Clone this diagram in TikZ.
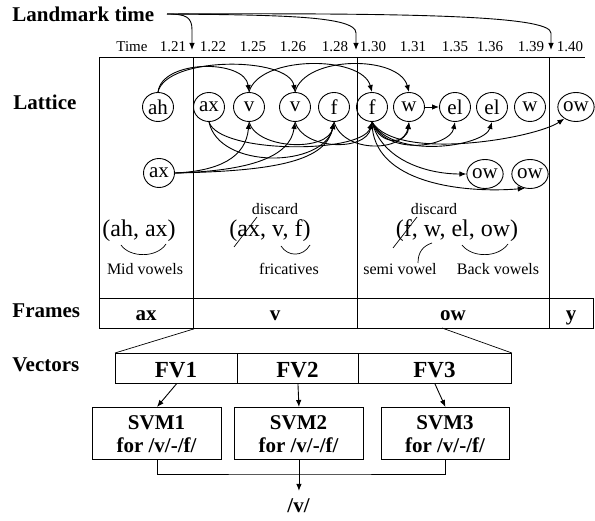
\documentclass[tikz,border=0pt]{standalone}
\usepackage{fontspec}
\setmainfont{Liberation Serif}
\usetikzlibrary{arrows.meta,shapes.geometric}
\begin{document}
\begin{tikzpicture}[x=1pt,y=-1pt,line width=0.9pt,
  tip/.style={-{Latex[length=7pt,width=5.5pt]}},
  lbl/.style={font=\fontsize{21}{25}\selectfont\bfseries,anchor=base west,inner sep=0pt},
  tm/.style={font=\fontsize{15}{18}\selectfont,anchor=base,inner sep=0pt},
  ph/.style={draw,ellipse,minimum width=31pt,minimum height=29pt,inner sep=0pt,font=\fontsize{21}{24}\selectfont},
  grp/.style={font=\fontsize{24}{28}\selectfont,anchor=base,inner sep=0pt},
  sm/.style={font=\fontsize{16}{19}\selectfont,anchor=base,inner sep=0pt},
  bt/.style={font=\fontsize{21}{25}\selectfont\bfseries,anchor=base,inner sep=0pt},
  fvt/.style={font=\fontsize{23}{27}\selectfont\bfseries,anchor=base,inner sep=0pt},
  cell/.style={draw,minimum width=#1,minimum height=30pt,inner sep=0pt,anchor=north west},
  svm/.style={draw,minimum width=#1,minimum height=52pt,inner sep=0pt,anchor=north west}
]
\useasboundingbox (0,0) rectangle (595,521);

% left labels
\node[lbl] (lm) at (12,22) {Landmark time};
\node[lbl] (lat) at (13,110) {Lattice};
\node[lbl] (frm) at (12,318) {Frames};
\node[lbl] (vec) at (12,372) {Vectors};

% time row
\node[tm] (tT) at (132,52) {Time};
\node[tm] (t1) at (173,52) {1.21};
\node[tm] (t2) at (213,52) {1.22};
\node[tm] (t3) at (253,52) {1.25};
\node[tm] (t4) at (293,52) {1.26};
\node[tm] (t5) at (335,52) {1.28};
\node[tm] (t6) at (373,52) {1.30};
\node[tm] (t7) at (413,52) {1.31};
\node[tm] (t8) at (455,52) {1.35};
\node[tm] (t9) at (490,52) {1.36};
\node[tm] (t10) at (531,52) {1.39};
\node[tm] (t11) at (570,52) {1.40};

% landmark arrows
\coordinate (ls) at (167,14);
\coordinate (la) at (192,50);
\coordinate (lb) at (356,50);
\coordinate (lc) at (551,50);
\draw[tip] (ls) .. controls (186,14) and (192,17) .. (192,30) -- (la);
\draw[tip] (ls) .. controls (280,15) and (356,16) .. (356,33) -- (lb);
\draw[tip] (ls) .. controls (400,13) and (551,15) .. (551,33) -- (lc);

% lattice frame
\draw (99,298) -- (99,57) -- (585,57);
\draw (193,57) -- (193,298);
\draw (357,57) -- (357,298);
\draw (549,57) -- (549,298);

% lattice nodes
\node[ph] (ah) at (158,107) {ah};
\node[ph] (axt) at (209,107) {ax};
\node[ph] (v1) at (249,107) {v};
\node[ph] (v2) at (295,107) {v};
\node[ph] (f1) at (334,107) {f};
\node[ph] (f2) at (372,107) {f};
\node[ph] (w1) at (409,107) {w};
\node[ph] (el1) at (455,107) {el};
\node[ph] (el2) at (492,107) {el};
\node[ph] (w2) at (530,107) {w};
\node[ph] (ow) at (576,107) {ow};
\node[ph] (axb) at (159,173) {ax};
\node[ph] (owa) at (485,174) {ow};
\node[ph] (owb) at (530,174) {ow};

% top arcs
\draw[tip] (ah.north) .. controls +(4,-33) and +(-4,-33) .. (v1.north);
\draw[tip] (ah.north) .. controls +(8,-36) and +(-6,-36) .. (v2.north);
\draw[tip] (v1.north) .. controls +(10,-37) and +(-10,-37) .. (f2.north);
\draw[tip] (v2.north) .. controls +(10,-37) and +(-10,-37) .. (w1.north);

% bottom arcs
\draw[tip] (axt.south) .. controls +(10,48) and +(-10,46) .. (f1.south);
\draw[tip] (axt.south) .. controls +(10,32) and +(-10,32) .. (f2.south);
\draw[tip] (axb.east) .. controls +(45,-2) and +(-3,35) .. (v1.south);
\draw[tip] (axb.east) .. controls +(75,-2) and +(-5,35) .. (v2.south);
\draw[tip] (axb.east) .. controls +(105,-2) and +(-8,38) .. (f1.south);
\draw[tip] (v1.south) .. controls +(8,28) and +(-6,30) .. (f1.south);
\draw[tip] (v2.south) .. controls +(8,28) and +(-6,30) .. (f2.south);
\draw[tip] (f1.south) .. controls +(10,32) and +(-5,30) .. (w1.south);

% fan from f2
\draw[tip] (f2.south) .. controls +(8,25) and +(-2,22) .. (w1.south);
\draw[tip] (f2.south) .. controls +(15,35) and +(-5,25) .. (el1.south);
\draw[tip] (f2.south) .. controls +(20,38) and +(-8,25) .. (el2.south);
\draw[tip] (f2.south) .. controls +(25,40) and +(-30,20) .. (ow.225);
\draw[tip] (f2.south) .. controls +(10,38) and +(-40,0) .. (owa.west);
\draw[tip] (f2.south) .. controls +(0,62) and +(-60,5) .. (owb.250);
\draw[tip] (w1.east) -- (el1.west);

% groups
\node[grp] (g1) at (139,237) {(ah, ax)};
\node[grp] (g2) at (270,237) {(ax, v, f)};
\node[grp] (g3) at (457,237) {(f, w, el, ow)};
\node[sm] (d1) at (275,215) {discard};
\node[sm] (d2) at (434,215) {discard};
\draw[line width=0.7pt] (234,247) -- (257,217);
\draw[line width=0.7pt] (393,248) -- (417,217);
\draw[line width=0.7pt] (121,245) .. controls (130,258) and (157,258) .. (166,244);
\draw[line width=0.7pt] (281,246) .. controls (288,257) and (303,257) .. (310,245);
\draw[line width=0.7pt] (462,245) .. controls (472,258) and (498,258) .. (508,244);
\draw[line width=0.7pt] (432,243) .. controls (423,246) and (418,252) .. (418,263);
\node[sm] (c1) at (145,275) {Mid vowels};
\node[sm] (c2) at (289,275) {fricatives};
\node[sm] (c3) at (400,275) {semi vowel};
\node[sm] (c4) at (498,275) {Back vowels};

% frames
\node[cell=94pt] (fa) at (99,298) {};
\node[cell=164pt] (fb) at (193,298) {};
\node[cell=192pt] (fc) at (357,298) {};
\node[cell=44pt] (fd) at (549,298) {};
\node[bt] (fta) at (146,321) {ax};
\node[bt] (ftb) at (275,321) {v};
\node[bt] (ftc) at (453,321) {ow};
\node[bt] (ftd) at (571,321) {y};

% vectors
\node[cell=122pt] (fv1) at (115,353) {};
\node[cell=121pt] (fv2) at (237,353) {};
\node[cell=153pt] (fv3) at (358,353) {};
\node[fvt] (fvt1) at (176,378) {FV1};
\node[fvt] (fvt2) at (297.5,378) {FV2};
\node[fvt] (fvt3) at (434.5,378) {FV3};
\coordinate (zo) at (442,328);
\draw[line width=0.7pt] (fa.south east) -- (fv1.north west);
\draw[line width=0.7pt] (zo) -- (fv3.north east);

% svm boxes
\node[svm=129pt] (s1) at (92,407) {};
\node[svm=129pt] (s2) at (234,407) {};
\node[svm=128pt] (s3) at (381,407) {};
\node[bt] (s1a) at (156.5,430) {SVM1};
\node[bt] (s1b) at (156.5,453) {for /v/-/f/};
\node[bt] (s2a) at (298.5,430) {SVM2};
\node[bt] (s2b) at (298.5,453) {for /v/-/f/};
\node[bt] (s3a) at (445,430) {SVM3};
\node[bt] (s3b) at (445,453) {for /v/-/f/};

\draw[tip] (fv1.south) -- (s1.north);
\draw[tip] (fv2.south) -- (s2.north);
\draw[tip] (fv3.south) -- (s3.north);

\coordinate (jn) at (298.5,474);
\draw (s1.south) |- (jn) -| (s3.south);
\draw[tip] (s2.south) -- ++(0,31);
\node[bt] (res) at (298.5,512) {/v/};
\end{tikzpicture}
\end{document}
